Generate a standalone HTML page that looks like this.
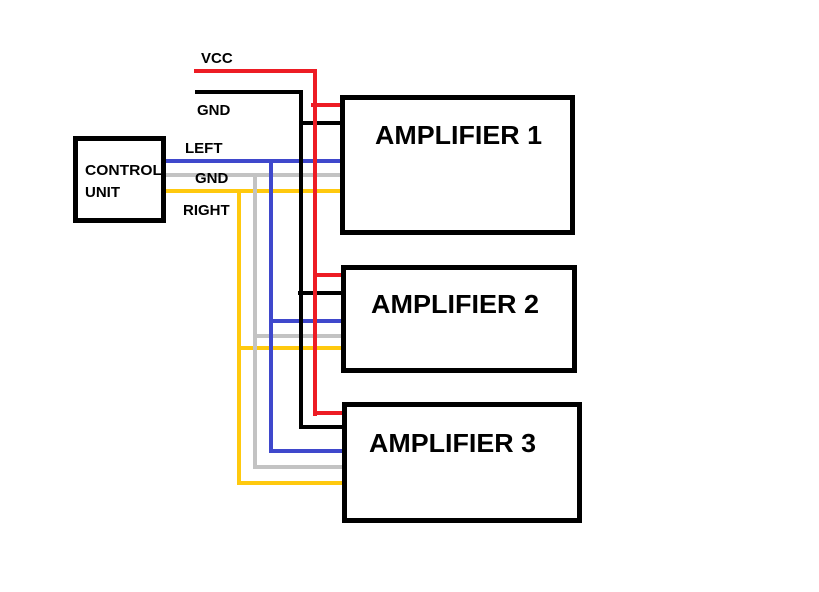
<!DOCTYPE html>
<html><head><style>
html,body{margin:0;padding:0;background:#fff;}
svg{display:block;}
text{font-family:"Liberation Sans","DejaVu Sans",sans-serif;font-weight:bold;fill:#000;}
</style></head><body>
<svg width="819" height="592" viewBox="0 0 819 592" xmlns="http://www.w3.org/2000/svg">
<g fill="none" stroke-width="4" stroke-linecap="square">
<g stroke="#ffc90e">
<line x1="167" y1="191" x2="343" y2="191"/>
<line x1="239" y1="191" x2="239" y2="483"/>
<line x1="239" y1="348" x2="343" y2="348"/>
<line x1="239" y1="483" x2="343" y2="483"/>
</g>
<g stroke="#c3c3c3">
<line x1="167" y1="175" x2="343" y2="175"/>
<line x1="255" y1="175" x2="255" y2="467"/>
<line x1="255" y1="336" x2="343" y2="336"/>
<line x1="255" y1="467" x2="345" y2="467"/>
</g>
<g stroke="#3f48cc">
<line x1="164" y1="161" x2="343" y2="161"/>
<line x1="271" y1="161" x2="271" y2="451"/>
<line x1="271" y1="321" x2="343" y2="321"/>
<line x1="271" y1="451" x2="345" y2="451"/>
</g>
<g stroke="#000">
<line x1="197" y1="92" x2="301" y2="92"/>
<line x1="301" y1="92" x2="301" y2="426"/>
<line x1="301" y1="123" x2="343" y2="123"/>
<line x1="300" y1="293" x2="343" y2="293"/>
<line x1="301" y1="427" x2="345" y2="427"/>
</g>
<g stroke="#ed1c24">
<line x1="196" y1="71" x2="315" y2="71"/>
<line x1="315" y1="71" x2="315" y2="414"/>
<line x1="313" y1="105" x2="343" y2="105"/>
<line x1="315" y1="275" x2="343" y2="275"/>
<line x1="315" y1="413" x2="345" y2="413"/>
</g>
</g>
<g fill="none" stroke="#000" stroke-width="5">
<rect x="75.5" y="138.5" width="88" height="82"/>
<rect x="342.5" y="97.5" width="230" height="135"/>
<rect x="343.5" y="267.5" width="231" height="103"/>
<rect x="344.5" y="404.5" width="235" height="116"/>
</g>
<text x="201" y="63" font-size="15">VCC</text>
<text x="197" y="115" font-size="15">GND</text>
<text x="185" y="153" font-size="15">LEFT</text>
<text x="195" y="183" font-size="15">GND</text>
<text x="183" y="215" font-size="15">RIGHT</text>
<text x="85" y="175" font-size="15" textLength="77" lengthAdjust="spacingAndGlyphs">CONTROL</text>
<text x="85" y="197" font-size="15">UNIT</text>
<text x="375" y="144" font-size="25.5" textLength="167" lengthAdjust="spacingAndGlyphs">AMPLIFIER 1</text>
<text x="371" y="313" font-size="25.5" textLength="168" lengthAdjust="spacingAndGlyphs">AMPLIFIER 2</text>
<text x="369" y="452" font-size="25.5" textLength="167" lengthAdjust="spacingAndGlyphs">AMPLIFIER 3</text>
</svg>
</body></html>
